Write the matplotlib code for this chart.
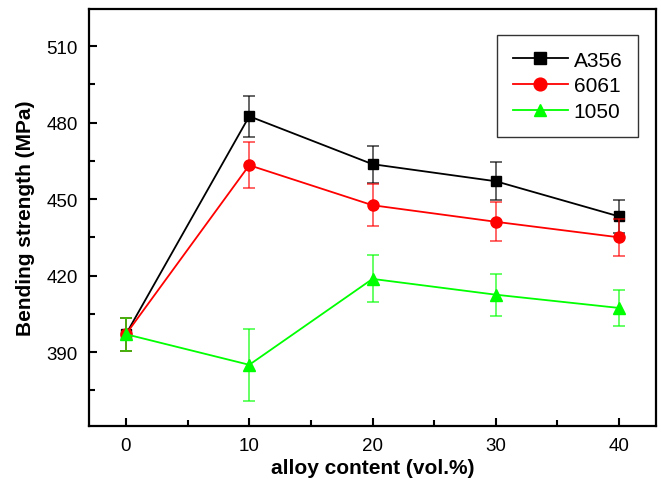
import matplotlib
matplotlib.use("Agg")
import matplotlib.pyplot as plt
from matplotlib.ticker import MultipleLocator

plt.rcParams["font.family"] = ["Liberation Sans", "DejaVu Sans"]

content = [0, 10, 20, 30, 40]

a356 = [397, 482.5, 463.7, 457.0, 443.2]
a356_err = [6.5, 8.0, 7.2, 7.4, 6.4]

al6061 = [397, 463.3, 447.6, 441.1, 435.0]
al6061_err = [6.5, 9.0, 8.3, 7.6, 7.2]

al1050 = [397, 385.0, 418.7, 412.5, 407.3]
al1050_err = [6.5, 14.0, 9.2, 8.3, 7.2]

series = [
    ("A356", a356, a356_err, "black", "s", 7),
    ("6061", al6061, al6061_err, "red", "o", 8),
    ("1050", al1050, al1050_err, "#00ff00", "^", 8),
]

fig = plt.figure(figsize=(6.61, 4.85), dpi=100)
ax = fig.add_axes([0.1346, 0.1196, 0.858, 0.8594])

handles = []
for name, vals, err, color, marker, ms in series:
    ax.errorbar(content, vals, yerr=err, fmt="none", ecolor=color,
                elinewidth=1.2, capsize=4, capthick=1.2, alpha=0.7)
    line, = ax.plot(content, vals, color=color, marker=marker,
                    markersize=ms, linewidth=1.3, label=name)
    handles.append(line)

ax.set_xlim(-3, 43)
ax.set_ylim(361, 524.5)
ax.xaxis.set_major_locator(MultipleLocator(10))
ax.xaxis.set_minor_locator(MultipleLocator(5))
ax.yaxis.set_major_locator(MultipleLocator(30))
ax.yaxis.set_minor_locator(MultipleLocator(15))
ax.set_yticks([390, 420, 450, 480, 510])
ax.tick_params(which="both", direction="in", width=1.5, labelsize=13.5, pad=8)
ax.tick_params(which="major", length=6)
ax.tick_params(which="minor", length=4)
for sp in ax.spines.values():
    sp.set_linewidth(1.6)

ax.set_xlabel("alloy content (vol.%)", fontsize=15, fontweight="bold", labelpad=3)
ax.set_ylabel("Bending strength (MPa)", fontsize=15, fontweight="bold", labelpad=8)

leg = ax.legend(handles=handles, loc="upper right", fontsize=15, frameon=True,
                fancybox=False, edgecolor="black", borderpad=0.75,
                handlelength=2.65, handletextpad=0.27, labelspacing=0.32,
                markerscale=1.15, bbox_to_anchor=(0.968, 0.938), borderaxespad=0)
leg.get_frame().set_linewidth(1.0)

fig.savefig("out.png", dpi=100)
